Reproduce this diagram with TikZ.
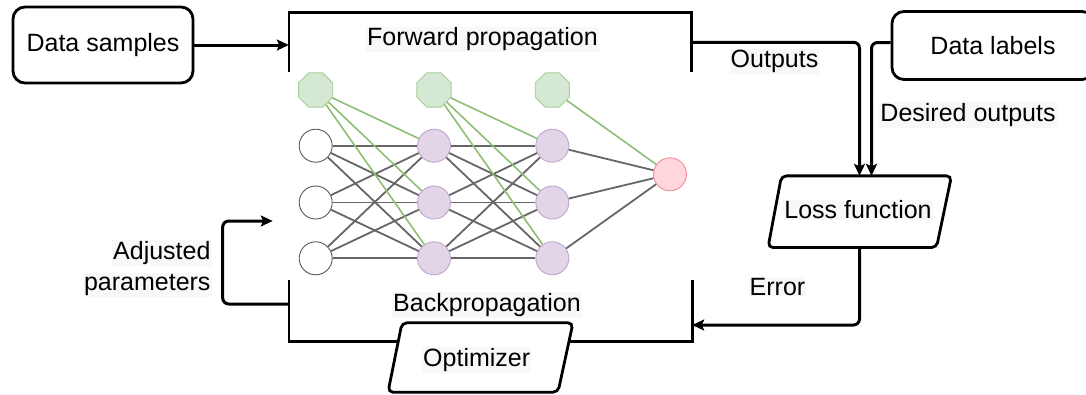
\documentclass[tikz,border=0pt]{standalone}
\usepackage{fontspec}
\setmainfont{Liberation Sans}
\usetikzlibrary{arrows.meta,shapes.geometric,calc}

\definecolor{biasfill}{HTML}{D5E8D4}
\definecolor{biasline}{HTML}{A9CF98}
\definecolor{hidfill}{HTML}{E1D5E7}
\definecolor{hidline}{HTML}{BFA6CC}
\definecolor{outfill}{HTML}{FFD6DC}
\definecolor{outborder}{HTML}{EE8D96}
\definecolor{wgray}{HTML}{666666}
\definecolor{wgreen}{HTML}{8DBE74}
\definecolor{lblbg}{HTML}{F8F8F8}

\tikzset{
  txt/.style={font=\fontsize{25}{32}\selectfont, inner sep=1pt},
  lbl/.style={txt, fill=lblbg},
  box/.style={txt, draw, line width=2.8pt, rounded corners=12pt},
  para/.style={line width=2.8pt, rounded corners=5pt},
  bracket/.style={line width=2.6pt},
  flow/.style={line width=3pt, rounded corners=6pt},
  arr/.style={flow, -{Stealth[length=12pt,width=11pt,inset=2.5pt]}},
  inp/.style={circle, draw=black!65, fill=white, line width=0.9pt, minimum size=33pt, inner sep=0pt},
  hid/.style={inp, draw=hidline, fill=hidfill},
  outn/.style={inp, draw=outborder, fill=outfill},
  bias/.style={regular polygon, regular polygon sides=8, minimum size=37pt, inner sep=0pt,
               draw=biasline, fill=biasfill, line width=0.9pt},
  wedge/.style={draw=wgray, line width=1.8pt},
  bedge/.style={draw=wgreen, line width=1.6pt},
}

\begin{document}
\begin{tikzpicture}[x=1pt,y=-1pt]
\useasboundingbox (0,0) rectangle (1086,394);
\clip (0,0) rectangle (1086,394);

% input and label boxes
\node[box, minimum width=180pt, minimum height=76pt] (ds) at (103,45) {Data samples};
\node[box, minimum width=202pt, minimum height=68pt] (dl) at (993,45.5) {Data labels};

% forward propagation frame
\node[minimum width=402pt, minimum height=59.5pt, inner sep=0pt] (fwd) at (490,42.25) {};
\draw[bracket] (fwd.south west) -- (fwd.north west) -- (fwd.north east) -- (fwd.south east);
\node[lbl] (fwdtxt) at (482.5,39.5) {Forward propagation};

% backpropagation frame
\node[minimum width=403pt, minimum height=61pt, inner sep=0pt] (bp) at (490.5,311) {};
\draw[bracket] (bp.north west) -- (bp.south west) -- (bp.south east) -- (bp.north east);
\node[lbl] (bptxt) at (487,305) {Backpropagation};

% loss function
\node[minimum width=170pt, minimum height=71.3pt, inner sep=0pt] (loss) at (859.5,211.7) {};
\draw[para, fill=white] ([xshift=-78pt]loss.north) -- ([xshift=92pt]loss.north)
  -- ([xshift=77pt]loss.south) -- ([xshift=-91.5pt]loss.south) -- cycle;
\node[lbl] (losstxt) at (858,210) {Loss function};

% optimizer
\node[minimum width=170pt, minimum height=69pt, inner sep=0pt] (opt) at (480,357.5) {};
\draw[para, fill=white] ([xshift=-78pt]opt.north) -- ([xshift=93pt]opt.north)
  -- ([xshift=78pt]opt.south) -- ([xshift=-92pt]opt.south) -- cycle;
\node[lbl] (opttxt) at (476.7,360) {Optimizer};

% connectors
\draw[arr] (ds.east) -- (fwd.west |- ds.east);
\draw[arr] (fwd.east) -| (loss.north);
\draw[arr] ([yshift=3pt]dl.west) -| ([xshift=12pt]loss.north);
\draw[arr] (loss.south) |- ([yshift=-14pt]bp.east);
\coordinate (adjend) at (272.7,221);
\draw[arr] ([yshift=7pt]bp.west) -| (222.7,221) -- (adjend);

% connector labels
\node[lbl] (outlbl) at (774.5,61.7) {Outputs};
\node[lbl] (deslbl) at (968,115) {Desired outputs};
\node[lbl] (errlbl) at (777.5,286.7) {Error};
\node[lbl, anchor=east] (adjlbla) at (211.7,253) {Adjusted};
\node[lbl, anchor=east] (adjlblb) at (211.7,285) {parameters};

% network
\foreach \n/\x in {1/315.7, 2/434, 3/552.3}
  \node[bias] (b\n) at (\x,90) {};
\foreach \n/\y in {1/145.7, 2/202.5, 3/258.3} {
  \node[inp] (i\n) at (315.7,\y) {};
  \node[hid] (h\n) at (434,\y) {};
  \node[hid] (g\n) at (552.3,\y) {};
}
\node[outn] (o) at (670,174.3) {};

\foreach \a in {1,2,3} {
  \foreach \b in {1,2,3} {
    \draw[wedge] (i\a) -- (h\b);
    \draw[wedge] (h\a) -- (g\b);
  }
  \draw[wedge] (g\a) -- (o);
}
\foreach \b in {1,2,3} {
  \draw[bedge] (b1) -- (h\b);
  \draw[bedge] (b2) -- (g\b);
}
\draw[bedge] (b3) -- (o);
\end{tikzpicture}
\end{document}
